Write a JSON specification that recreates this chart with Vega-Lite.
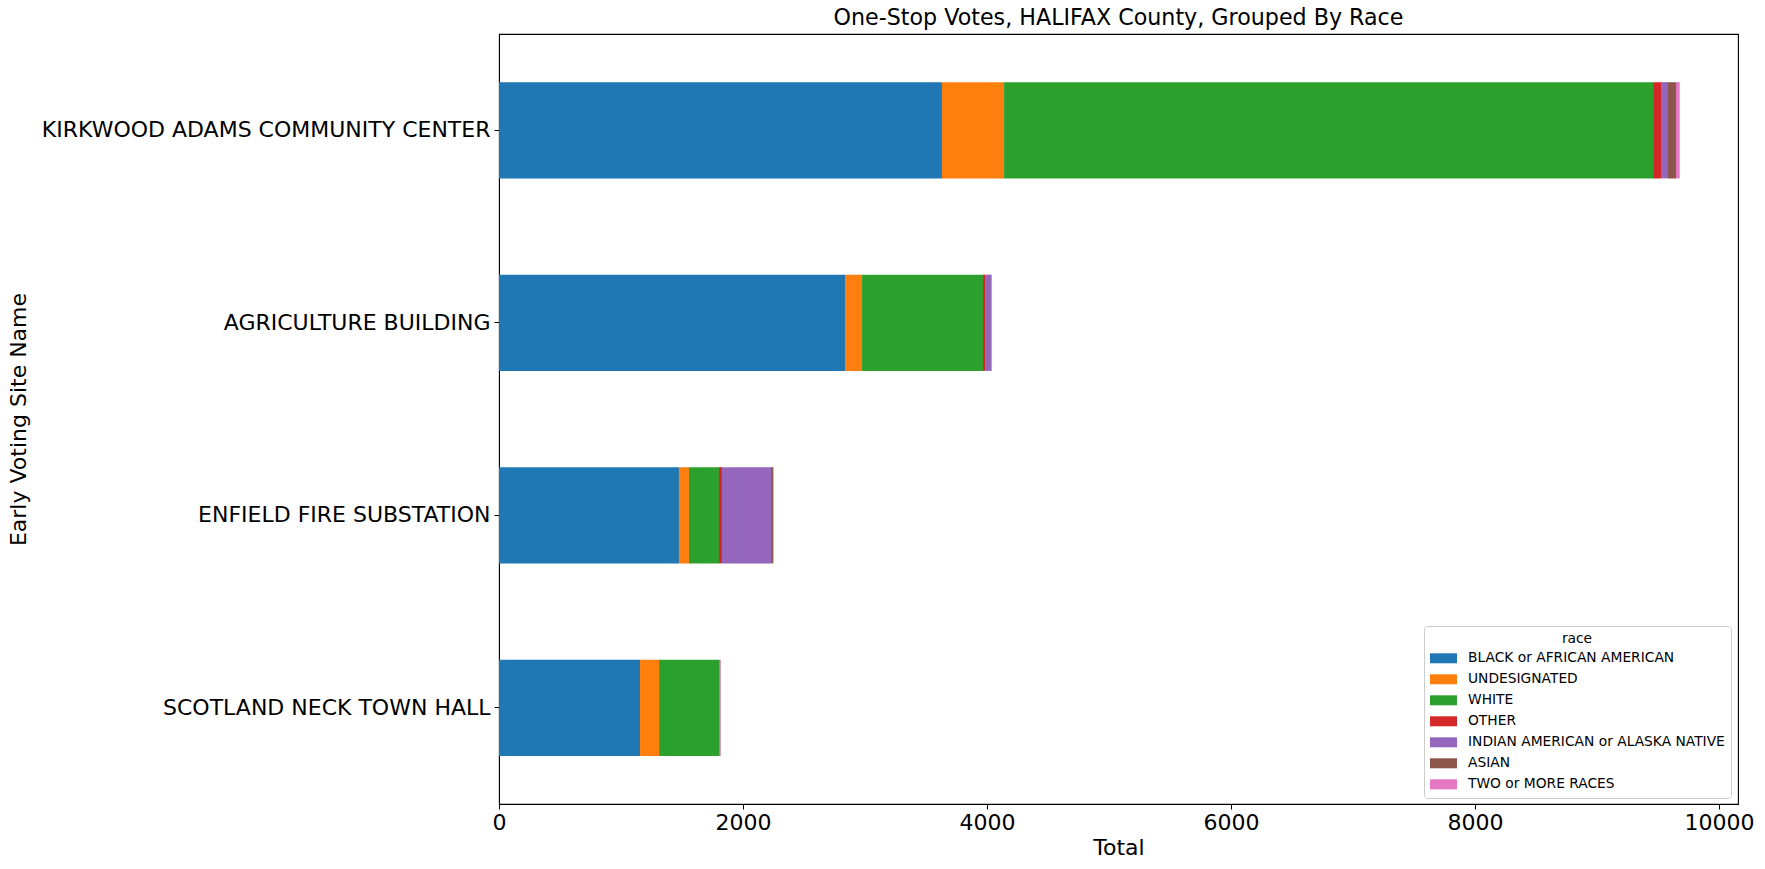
{
  "$schema": "https://vega.github.io/schema/vega-lite/v6.json",
  "autosize": {"type": "none"},
  "width": 1239,
  "height": 770,
  "padding": {"left": 499, "top": 34, "right": 27, "bottom": 65},
  "background": "white",
  "title": {"text": "One-Stop Votes, HALIFAX County, Grouped By Race", "font": "DejaVu Sans", "fontSize": 22.2, "fontWeight": "normal", "color": "black", "anchor": "middle", "offset": 5},
  "config": {
    "font": "DejaVu Sans",
    "view": {"stroke": "black", "strokeWidth": 1.1},
    "axis": {"grid": false, "domain": true, "domainColor": "black", "tickColor": "black", "tickSize": 5, "labelColor": "black", "titleColor": "black", "labelFont": "DejaVu Sans", "titleFont": "DejaVu Sans", "labelFontSize": 22, "titleFontSize": 22, "titleFontWeight": "normal", "labelLimit": 0}
  },
  "data": {"values": [
    {"site": "KIRKWOOD ADAMS COMMUNITY CENTER", "race": "BLACK or AFRICAN AMERICAN", "total": 3631},
    {"site": "KIRKWOOD ADAMS COMMUNITY CENTER", "race": "UNDESIGNATED", "total": 509},
    {"site": "KIRKWOOD ADAMS COMMUNITY CENTER", "race": "WHITE", "total": 5320},
    {"site": "KIRKWOOD ADAMS COMMUNITY CENTER", "race": "OTHER", "total": 65},
    {"site": "KIRKWOOD ADAMS COMMUNITY CENTER", "race": "INDIAN AMERICAN or ALASKA NATIVE", "total": 57},
    {"site": "KIRKWOOD ADAMS COMMUNITY CENTER", "race": "ASIAN", "total": 66},
    {"site": "KIRKWOOD ADAMS COMMUNITY CENTER", "race": "TWO or MORE RACES", "total": 30},
    {"site": "AGRICULTURE BUILDING", "race": "BLACK or AFRICAN AMERICAN", "total": 2836},
    {"site": "AGRICULTURE BUILDING", "race": "UNDESIGNATED", "total": 140},
    {"site": "AGRICULTURE BUILDING", "race": "WHITE", "total": 991},
    {"site": "AGRICULTURE BUILDING", "race": "OTHER", "total": 17},
    {"site": "AGRICULTURE BUILDING", "race": "INDIAN AMERICAN or ALASKA NATIVE", "total": 50},
    {"site": "AGRICULTURE BUILDING", "race": "ASIAN", "total": 3},
    {"site": "AGRICULTURE BUILDING", "race": "TWO or MORE RACES", "total": 4},
    {"site": "ENFIELD FIRE SUBSTATION", "race": "BLACK or AFRICAN AMERICAN", "total": 1475},
    {"site": "ENFIELD FIRE SUBSTATION", "race": "UNDESIGNATED", "total": 82},
    {"site": "ENFIELD FIRE SUBSTATION", "race": "WHITE", "total": 246},
    {"site": "ENFIELD FIRE SUBSTATION", "race": "OTHER", "total": 25},
    {"site": "ENFIELD FIRE SUBSTATION", "race": "INDIAN AMERICAN or ALASKA NATIVE", "total": 402},
    {"site": "ENFIELD FIRE SUBSTATION", "race": "ASIAN", "total": 16},
    {"site": "ENFIELD FIRE SUBSTATION", "race": "TWO or MORE RACES", "total": 5},
    {"site": "SCOTLAND NECK TOWN HALL", "race": "BLACK or AFRICAN AMERICAN", "total": 1156},
    {"site": "SCOTLAND NECK TOWN HALL", "race": "UNDESIGNATED", "total": 156},
    {"site": "SCOTLAND NECK TOWN HALL", "race": "WHITE", "total": 494},
    {"site": "SCOTLAND NECK TOWN HALL", "race": "OTHER", "total": 4},
    {"site": "SCOTLAND NECK TOWN HALL", "race": "INDIAN AMERICAN or ALASKA NATIVE", "total": 3},
    {"site": "SCOTLAND NECK TOWN HALL", "race": "ASIAN", "total": 2},
    {"site": "SCOTLAND NECK TOWN HALL", "race": "TWO or MORE RACES", "total": 4}
  ]},
  "transform": [
    {"calculate": "indexof(['BLACK or AFRICAN AMERICAN', 'UNDESIGNATED', 'WHITE', 'OTHER', 'INDIAN AMERICAN or ALASKA NATIVE', 'ASIAN', 'TWO or MORE RACES'], datum.race)", "as": "race_rank"}
  ],
  "mark": {"type": "bar"},
  "encoding": {
    "y": {
      "field": "site", "type": "nominal",
      "sort": ["KIRKWOOD ADAMS COMMUNITY CENTER", "AGRICULTURE BUILDING", "ENFIELD FIRE SUBSTATION", "SCOTLAND NECK TOWN HALL"],
      "scale": {"paddingInner": 0.5, "paddingOuter": 0.25},
      "axis": {"title": "Early Voting Site Name", "labelPadding": 4, "titleX": -481, "titleY": 385, "titleBaseline": "middle", "titleAnchor": "middle"}
    },
    "x": {
      "field": "total", "type": "quantitative", "aggregate": "sum", "stack": "zero",
      "scale": {"domain": [0, 10156], "nice": false, "zero": true},
      "axis": {"title": "Total", "values": [0, 2000, 4000, 6000, 8000, 10000], "format": "d", "labelPadding": 3, "titlePadding": 4, "labelFlush": false}
    },
    "order": {"field": "race_rank", "type": "quantitative", "aggregate": "min", "sort": "ascending"},
    "color": {
      "field": "race", "type": "nominal",
      "sort": ["BLACK or AFRICAN AMERICAN", "UNDESIGNATED", "WHITE", "OTHER", "INDIAN AMERICAN or ALASKA NATIVE", "ASIAN", "TWO or MORE RACES"],
      "scale": {
        "domain": ["BLACK or AFRICAN AMERICAN", "UNDESIGNATED", "WHITE", "OTHER", "INDIAN AMERICAN or ALASKA NATIVE", "ASIAN", "TWO or MORE RACES"],
        "range": ["#1f77b4", "#ff7f0e", "#2ca02c", "#d62728", "#9467bd", "#8c564b", "#e377c2"]
      },
      "legend": {
        "title": "race", "orient": "none", "legendX": 925, "legendY": 592,
        "titleAnchor": "middle", "titleFontSize": 13.8, "titleFontWeight": "normal", "titleColor": "black", "titleFont": "DejaVu Sans", "titlePadding": -1,
        "labelFontSize": 13.8, "labelColor": "black", "labelFont": "DejaVu Sans", "labelOffset": 11, "labelLimit": 0,
        "symbolType": "M-1,-0.37H1V0.37H-1Z", "symbolSize": 729, "symbolStrokeWidth": 0, "symbolOpacity": 1,
        "rowPadding": -4.85,
        "padding": 6, "strokeColor": "#cccccc", "fillColor": "white", "cornerRadius": 3
      }
    }
  }
}
